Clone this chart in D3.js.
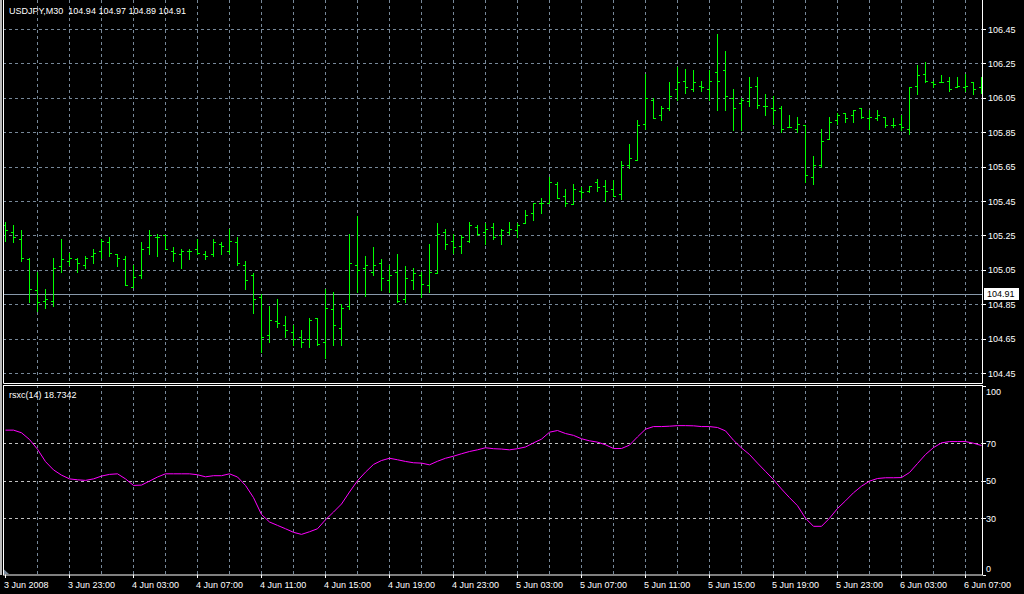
<!DOCTYPE html>
<html><head><meta charset="utf-8">
<script src="https://cdn.jsdelivr.net/npm/d3@7"></script>
<style>
html,body{margin:0;padding:0;background:#000;overflow:hidden}
svg{display:block}
text{font-family:"Liberation Sans",Arial,sans-serif;font-size:9px}
</style></head><body>
<svg id="c" width="1024" height="594"></svg>
<script>
// ---------- data ----------
const symbolTitle = "USDJPY,M30  104.94 104.97 104.89 104.91";
const indicatorTitle = "rsxc(14) 18.7342";
const currentPrice = 104.91;
const opens = [105.31,105.27,105.23,105.11,104.93,104.87,104.87,105.07,105.10,105.11,105.08,105.13,105.16,105.21,105.14,105.11,104.95,105.02,105.18,105.24,
105.25,105.16,105.14,105.16,105.17,105.14,105.14,105.20,105.16,105.21,105.08,105.02,104.89,104.67,104.75,104.73,104.69,104.66,104.65,104.77,
104.63,104.82,104.71,104.84,105.08,105.06,105.04,105.09,104.99,105.04,104.88,104.99,105.02,104.96,105.03,105.27,105.22,105.19,105.22,105.30,
105.27,105.30,105.25,105.27,105.28,105.32,105.38,105.44,105.44,105.55,105.48,105.43,105.51,105.51,105.56,105.54,105.52,105.49,105.66,105.69,
105.90,106.04,105.95,105.99,106.10,106.15,106.10,106.12,106.10,106.20,106.21,106.05,106.02,106.03,106.12,106.00,105.99,105.99,105.88,105.87,
105.89,105.59,105.66,105.81,105.92,105.96,105.95,105.99,105.93,105.93,105.94,105.89,105.90,105.87,106.12,106.19,106.14,106.14,106.15,106.11,
106.11,106.14,106.11];
const highs = [105.33,105.31,105.28,105.12,105.04,104.94,105.12,105.23,105.15,105.12,105.13,105.17,105.23,105.24,105.14,105.13,105.08,105.21,105.28,105.26,
105.25,105.18,105.17,105.17,105.23,105.16,105.23,105.21,105.29,105.24,105.10,105.03,104.91,104.84,104.88,104.78,104.73,104.70,104.77,104.77,
104.94,104.92,104.85,105.26,105.36,105.13,105.18,105.11,105.08,105.14,105.07,105.06,105.04,105.20,105.32,105.29,105.26,105.25,105.33,105.31,
105.32,105.32,105.29,105.33,105.32,105.40,105.44,105.47,105.59,105.56,105.52,105.55,105.53,105.54,105.58,105.57,105.57,105.68,105.78,105.92,
106.19,106.05,106.00,106.14,106.23,106.22,106.21,106.15,106.21,106.42,106.32,106.10,106.05,106.17,106.17,106.07,106.06,106.00,105.95,105.94,
105.89,105.71,105.87,105.94,105.96,105.96,105.98,105.99,105.98,105.98,105.94,105.93,105.95,106.11,106.24,106.26,106.15,106.18,106.17,106.17,
106.19,106.14,106.17];
const lows = [105.22,105.21,105.10,104.86,104.81,104.83,104.84,105.04,105.08,105.04,105.06,105.09,105.12,105.13,105.07,104.96,104.95,105.00,105.14,105.13,
105.17,105.10,105.06,105.11,105.14,105.11,105.13,105.14,105.15,105.08,104.94,104.80,104.57,104.63,104.72,104.66,104.61,104.60,104.60,104.61,
104.54,104.61,104.61,104.82,104.92,104.90,105.02,104.93,104.92,104.86,104.86,104.94,104.89,104.92,105.03,105.17,105.15,105.15,105.21,105.25,
105.20,105.23,105.20,105.26,105.24,105.32,105.34,105.38,105.44,105.47,105.42,105.43,105.47,105.50,105.51,105.45,105.48,105.46,105.64,105.69,
105.87,105.93,105.92,105.98,106.04,106.08,106.09,106.09,106.04,105.98,105.98,105.86,105.86,106.00,105.99,105.95,105.90,105.85,105.88,105.85,
105.56,105.55,105.65,105.81,105.90,105.91,105.91,105.93,105.87,105.92,105.88,105.88,105.86,105.84,106.07,106.14,106.11,106.14,106.09,106.11,
106.09,106.07,106.08];
const closes = [105.28,105.24,105.12,104.94,104.86,104.88,105.06,105.11,105.12,105.09,105.12,105.15,105.22,105.15,105.12,104.96,105.01,105.17,105.25,105.24,
105.17,105.15,105.16,105.16,105.15,105.13,105.21,105.19,105.22,105.09,104.99,104.88,104.66,104.76,104.74,104.70,104.65,104.63,104.76,104.62,
104.83,104.73,104.83,105.09,105.05,105.08,105.08,105.00,105.02,104.87,105.00,105.03,104.97,105.04,105.26,105.20,105.18,105.24,105.31,105.26,
105.29,105.24,105.28,105.29,105.31,105.37,105.44,105.44,105.56,105.47,105.44,105.52,105.50,105.54,105.53,105.51,105.48,105.66,105.70,105.89,
106.05,105.93,105.99,106.06,106.14,106.11,106.14,106.11,106.15,106.15,106.06,105.99,106.04,106.11,106.01,106.00,105.98,105.87,105.88,105.90,
105.60,105.66,105.80,105.91,105.95,105.93,105.98,105.94,105.94,105.95,105.89,105.89,105.88,106.11,106.18,106.15,106.13,106.14,106.10,106.12,
106.12,106.10,106.10];
const rsxc = [77,77,75.6,72,66.8,60.2,55.8,53,51,50.5,50.2,51,52.5,53.4,53.7,51,47.5,47.7,49.8,52,
53.7,53.7,53.7,53.7,53.2,52.1,52.7,52.7,53.7,52,47.5,41,32,28,26.2,24.4,22.5,21.4,22.8,24.4,
29.2,33.3,37.6,44,50,54.6,58.7,60.8,62,61.2,60.3,59.6,59.4,58.5,60.4,62,63.1,64.4,65.6,66.5,
67.6,67.1,66.9,66.5,67.1,68,70.2,72.2,75.9,76.8,75.2,74.2,72.4,71.3,70.6,69.2,67.2,67.2,69,73.4,
77.5,78.9,78.9,79.1,79.4,79.4,79.3,78.9,78.9,78.4,76.6,71.6,67.5,64,59.4,55,50.6,45.6,41,36.7,
30,25.7,25.7,30,35.2,39.3,43.6,47.1,49.8,51.2,51.6,51.6,51.7,54.4,59.2,64,67.7,70.2,70.9,70.9,
70.9,70,68.8];
const priceTicks = [104.45,104.65,104.85,105.05,105.25,105.45,105.65,105.85,106.05,106.25,106.45];
const indTicks = [100,70,50,30,0];
const indLevels = [70,50,30];
const xTickIndex = [0,8,16,24,32,40,48,56,64,72,80,88,96,104,112,120];
const xTickLabels = ["3 Jun 2008","3 Jun 23:00","4 Jun 03:00","4 Jun 07:00","4 Jun 11:00","4 Jun 15:00","4 Jun 19:00","4 Jun 23:00",
"5 Jun 03:00","5 Jun 07:00","5 Jun 11:00","5 Jun 15:00","5 Jun 19:00","5 Jun 23:00","6 Jun 03:00","6 Jun 07:00"];

// ---------- layout ----------
const L = 3, R = 982, mainTop = 0, mainBot = 383, indTop = 385, indBot = 574.5;
const gridCol = "#778899", frameCol = "#ffffff", barCol = "#00ff00", lineCol = "#ff00ff";

const svg = d3.select("#c");
svg.append("rect").attr("width",1024).attr("height",594).attr("fill","#000");
svg.append("rect").attr("x",0).attr("y",0).attr("width",2).attr("height",575).attr("fill","#b8b8b8");

const x = d3.scaleLinear().domain([0, closes.length-1]).range([5, 5 + 8*(closes.length-1)]);
const y = d3.scaleLinear().domain([104.45,106.45]).range([373,29]);
const yi = d3.scaleLinear().domain([0,100]).range([indBot, 387]);
const px = v => Math.round(v) + 0.5;

svg.append("clipPath").attr("id","cm").append("rect").attr("x",L+1).attr("y",mainTop).attr("width",R-L-1).attr("height",mainBot-mainTop);
svg.append("clipPath").attr("id","ci").append("rect").attr("x",L+1).attr("y",indTop+1).attr("width",R-L-1).attr("height",indBot-indTop-1);

// vertical grid every 4 bars
const vIdx = d3.range(4, closes.length, 4);
const gMain = svg.append("g").attr("clip-path","url(#cm)");
const gInd = svg.append("g").attr("clip-path","url(#ci)");
[ [gMain, mainTop, mainBot], [gInd, indTop, indBot] ].forEach(([g,t,b]) => {
  g.selectAll("line.vg").data(vIdx).join("line").attr("class","vg")
    .attr("x1",d=>px(x(d))).attr("x2",d=>px(x(d))).attr("y1",t).attr("y2",b)
    .attr("stroke",gridCol).attr("stroke-dasharray","3,3");
});
gMain.selectAll("line.hg").data(priceTicks).join("line").attr("class","hg")
  .attr("x1",L).attr("x2",R).attr("y1",d=>px(y(d))).attr("y2",d=>px(y(d)))
  .attr("stroke",gridCol).attr("stroke-dasharray","3,3");
gInd.selectAll("line.lv").data(indLevels).join("line").attr("class","lv")
  .attr("x1",L).attr("x2",R).attr("y1",d=>px(yi(d))).attr("y2",d=>px(yi(d)))
  .attr("stroke","#c0c0c0").attr("stroke-dasharray","3,3");

// current price line
gMain.append("line").attr("x1",L).attr("x2",R).attr("y1",px(y(currentPrice))).attr("y2",px(y(currentPrice)))
  .attr("stroke","#8899aa");

// OHLC bars
const bars = gMain.selectAll("g.bar").data(closes.map((c,i)=>({i,o:opens[i],h:highs[i],l:lows[i],c}))).join("g");
bars.append("rect").attr("x",d=>Math.round(x(d.i))).attr("width",1)
  .attr("y",d=>Math.round(y(d.h))).attr("height",d=>Math.round(y(d.l))-Math.round(y(d.h))+1).attr("fill",barCol);
bars.append("rect").attr("x",d=>Math.round(x(d.i))-2).attr("width",2)
  .attr("y",d=>Math.round(y(d.o))).attr("height",1).attr("fill",barCol);
bars.append("rect").attr("x",d=>Math.round(x(d.i))+1).attr("width",2)
  .attr("y",d=>Math.round(y(d.c))).attr("height",1).attr("fill",barCol);

// indicator line
gInd.append("path").datum(rsxc)
  .attr("d", d3.line().x((d,i)=>x(i)+0.5).y(d=>yi(d)))
  .attr("fill","none").attr("stroke",lineCol).attr("stroke-width",1);

// frames
const fr = svg.append("g").attr("fill","none").attr("stroke",frameCol);
fr.append("path").attr("d",`M${L+0.5},-1V${mainBot+0.5}H${R+0.5}V-1`);
fr.append("rect").attr("x",L+0.5).attr("y",indTop+0.5).attr("width",R-L).attr("height",indBot-indTop);

// price axis
const pa = svg.append("g");
pa.selectAll("line").data(priceTicks).join("line")
  .attr("x1",R+1).attr("x2",R+4).attr("y1",d=>px(y(d))).attr("y2",d=>px(y(d))).attr("stroke",frameCol);
pa.selectAll("text").data(priceTicks).join("text")
  .attr("x",R+6).attr("y",d=>y(d)+3.5).attr("fill","#fff").text(d=>d3.format(".2f")(d));

// current price box
svg.append("rect").attr("x",R+2.5).attr("y",Math.round(y(currentPrice))-5.5).attr("width",34).attr("height",11)
  .attr("fill","#fff").attr("stroke","#fff");
svg.append("text").attr("x",R+5).attr("y",y(currentPrice)+3.5).attr("fill","#000").text(d3.format(".2f")(currentPrice));

// indicator axis
const ia = svg.append("g");
const indLabelY = d => d===100 ? yi(d)+8 : d===0 ? yi(d)-3 : yi(d)+3.5;
ia.selectAll("line").data(indTicks).join("line")
  .attr("x1",R+1).attr("x2",R+4).attr("y1",d=>px(d===100?yi(d)-1:yi(d))).attr("y2",d=>px(d===100?yi(d)-1:yi(d))).attr("stroke",frameCol);
ia.selectAll("text").data(indTicks).join("text")
  .attr("x",R+4).attr("y",indLabelY).attr("fill","#fff").text(d=>d);

// time axis
const ta = svg.append("g");
ta.selectAll("line").data(xTickIndex).join("line")
  .attr("x1",d=>px(x(d))).attr("x2",d=>px(x(d))).attr("y1",indBot).attr("y2",indBot+3.5).attr("stroke",frameCol);
ta.selectAll("text").data(xTickIndex).join("text")
  .attr("x",d=>x(d)-1).attr("y",588).attr("fill","#fff").text((d,k)=>xTickLabels[k]);

// shift marker
svg.append("path").attr("d",`M${L+1},${indBot-5}L${L+1},${indBot-0.5}L${L+6},${indBot-0.5}Z`).attr("fill","#778899");

// titles
svg.append("text").attr("x",9).attr("y",14).attr("fill","#fff").attr("xml:space","preserve").style("white-space","pre").text(symbolTitle);
svg.append("text").attr("x",9).attr("y",398).attr("fill","#fff").text(indicatorTitle);
</script>
</body></html>
